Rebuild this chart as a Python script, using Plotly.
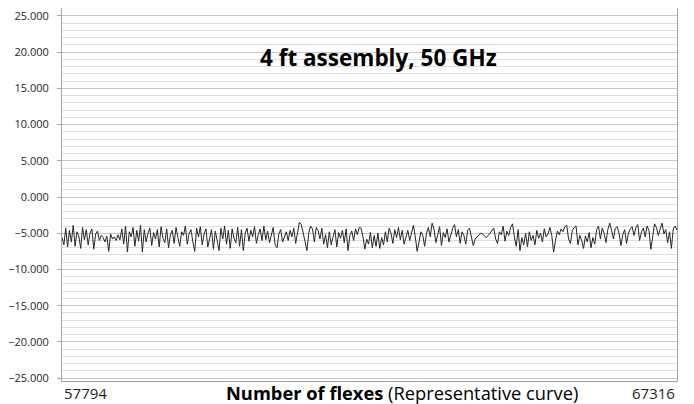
import numpy as np
import plotly.graph_objects as go

flex_start = 57794
flex_end = 67316
x_tick_labels = ["57794", "67316"]
y_tick_values = [25, 20, 15, 10, 5, 0, -5, -10, -15, -20, -25]

loss_db = [
    -5.6,-6.6,-4.3,-6.9,-4.6,-6.2,-3.9,-6.8,-4.8,-5.4,
    -7.1,-4.2,-5.9,-4.5,-6.6,-5.0,-4.4,-7.2,-5.1,-4.7,
    -6.0,-5.3,-5.6,-6.2,-5.4,-7.5,-5.1,-5.8,-5.5,-6.0,
    -5.2,-5.9,-4.4,-6.5,-4.0,-7.6,-4.8,-5.5,-4.2,-6.8,
    -4.6,-6.1,-3.9,-7.6,-4.5,-6.2,-5.0,-4.3,-6.7,-4.9,
    -5.8,-4.5,-6.9,-4.1,-5.7,-6.3,-4.4,-7.0,-5.2,-4.6,
    -6.4,-4.2,-5.6,-6.8,-4.8,-5.3,-4.0,-6.5,-5.0,-4.5,
    -6.2,-7.5,-4.3,-5.5,-4.1,-6.6,-5.1,-4.4,-6.9,-5.6,
    -4.5,-7.2,-4.7,-6.0,-7.4,-4.3,-5.8,-4.0,-6.5,-4.6,
    -7.1,-4.4,-5.7,-6.3,-4.2,-6.8,-4.5,-7.4,-5.0,-4.3,
    -6.1,-4.6,-5.5,-4.1,-6.4,-5.2,-4.4,-6.0,-4.0,-5.9,
    -4.7,-6.3,-5.0,-4.2,-6.6,-7.0,-5.1,-4.5,-6.2,-5.4,
    -4.8,-6.0,-4.6,-5.5,-4.3,-6.4,-5.0,-3.5,-3.8,-5.2,
    -6.1,-7.4,-5.0,-4.0,-4.4,-6.2,-4.2,-4.6,-5.8,-4.3,
    -6.5,-5.2,-7.0,-4.8,-6.6,-5.5,-4.5,-6.9,-4.9,-5.7,
    -4.6,-6.3,-4.4,-7.4,-5.3,-4.7,-6.0,-4.4,-5.2,-4.2,
    -4.3,-5.5,-7.2,-5.8,-6.5,-4.9,-7.0,-5.3,-6.8,-5.0,
    -7.1,-5.6,-6.6,-4.8,-6.2,-4.3,-5.0,-6.4,-4.5,-5.6,
    -4.2,-5.9,-4.6,-6.5,-5.4,-4.6,-6.0,-4.7,-3.9,-5.5,
    -7.5,-6.2,-4.8,-5.3,-6.8,-5.0,-4.2,-5.5,-3.6,-4.4,
    -6.3,-5.2,-4.1,-6.7,-4.9,-5.6,-4.4,-6.2,-5.1,-4.3,
    -3.8,-5.5,-4.5,-6.4,-4.8,-5.3,-6.5,-4.6,-4.3,-5.8,
    -6.7,-5.8,-5.5,-5.2,-5.0,-5.1,-5.4,-5.6,-5.3,-5.0,
    -4.6,-4.3,-5.8,-6.4,-4.8,-5.2,-4.0,-6.1,-4.7,-5.3,
    -4.2,-3.7,-5.5,-6.8,-4.5,-7.4,-5.6,-6.6,-5.0,-6.9,
    -4.8,-6.0,-5.3,-6.6,-4.6,-5.7,-5.0,-6.2,-4.4,-5.5,
    -5.1,-4.2,-5.3,-7.6,-6.0,-4.7,-5.2,-4.4,-4.8,-4.1,
    -3.9,-5.8,-6.4,-4.6,-4.2,-4.0,-6.6,-5.3,-6.0,-7.1,
    -5.4,-6.2,-4.9,-7.0,-5.6,-6.5,-4.5,-4.0,-5.8,-4.3,
    -5.0,-6.3,-4.5,-3.6,-4.6,-5.8,-4.3,-4.1,-5.0,-6.7,
    -5.2,-4.5,-6.4,-5.0,-4.4,-4.1,-5.3,-4.2,-3.8,-6.0,
    -4.8,-4.3,-5.5,-4.0,-4.6,-7.2,-5.5,-3.7,-4.2,-5.3,
    -4.4,-3.6,-5.1,-4.5,-6.3,-4.8,-7.1,-4.4,-4.0,-4.6,
]

flexes = np.linspace(flex_start, flex_end, len(loss_db))

FONT = "Open Sans, Noto Sans, sans-serif"

fig = go.Figure()
fig.add_trace(go.Scatter(
    x=flexes, y=loss_db, mode="lines",
    line=dict(color="#262626", width=1),
    hoverinfo="skip", showlegend=False,
))

# page body has an 8px default margin, so the figure is sized to fit the window
fig.update_layout(
    width=686, height=396,
    margin=dict(l=54, r=17, t=0, b=23, autoexpand=False),
    paper_bgcolor="white", plot_bgcolor="white",
    font=dict(family=FONT, color="#000000"),
    showlegend=False,
)

fig.update_xaxes(
    range=[flex_start, flex_end],
    automargin=False,
    showgrid=False, zeroline=False,
    showticklabels=False, ticks="",
    showline=True, linecolor="#a6a6a6", linewidth=1, mirror=True,
)
fig.update_yaxes(
    range=[-25.4, 26.1],
    automargin=False,
    tickmode="array", tickvals=y_tick_values,
    tickformat=".3f",
    tickfont=dict(size=11, color="#262626", family=FONT),
    ticklabeloverflow="allow",
    ticks="outside", ticklen=4, tickcolor="#a6a6a6",
    ticklabelstandoff=6,
    showgrid=True, gridcolor="#c8c8c8", gridwidth=1,
    minor=dict(dtick=1, tick0=0, showgrid=True, gridcolor="#dedede", gridwidth=1),
    zeroline=False,
    showline=True, linecolor="#a6a6a6", linewidth=1, mirror=True,
)

fig.add_annotation(
    x=flex_start, y=-0.032, xref="x", yref="paper",
    text=x_tick_labels[0], showarrow=False,
    xanchor="left", yanchor="middle",
    font=dict(size=15, color="#262626", family=FONT),
)
fig.add_annotation(
    x=flex_end, y=-0.032, xref="x", yref="paper",
    text=x_tick_labels[1], showarrow=False,
    xanchor="right", yanchor="middle",
    font=dict(size=15, color="#262626", family=FONT),
)
fig.add_annotation(
    x=0.553, y=-0.032, xref="paper", yref="paper",
    text="<b>Number of flexes</b> (Representative curve)", showarrow=False,
    xanchor="center", yanchor="middle",
    font=dict(size=18.3, color="#000000", family=FONT),
)
fig.add_annotation(
    x=0.514, y=0.866, xref="paper", yref="paper",
    text="<b>4 ft assembly, 50 GHz</b>", showarrow=False,
    xanchor="center", yanchor="middle",
    font=dict(size=22.5, color="#000000", family=FONT),
)

fig.write_html("out.html")
